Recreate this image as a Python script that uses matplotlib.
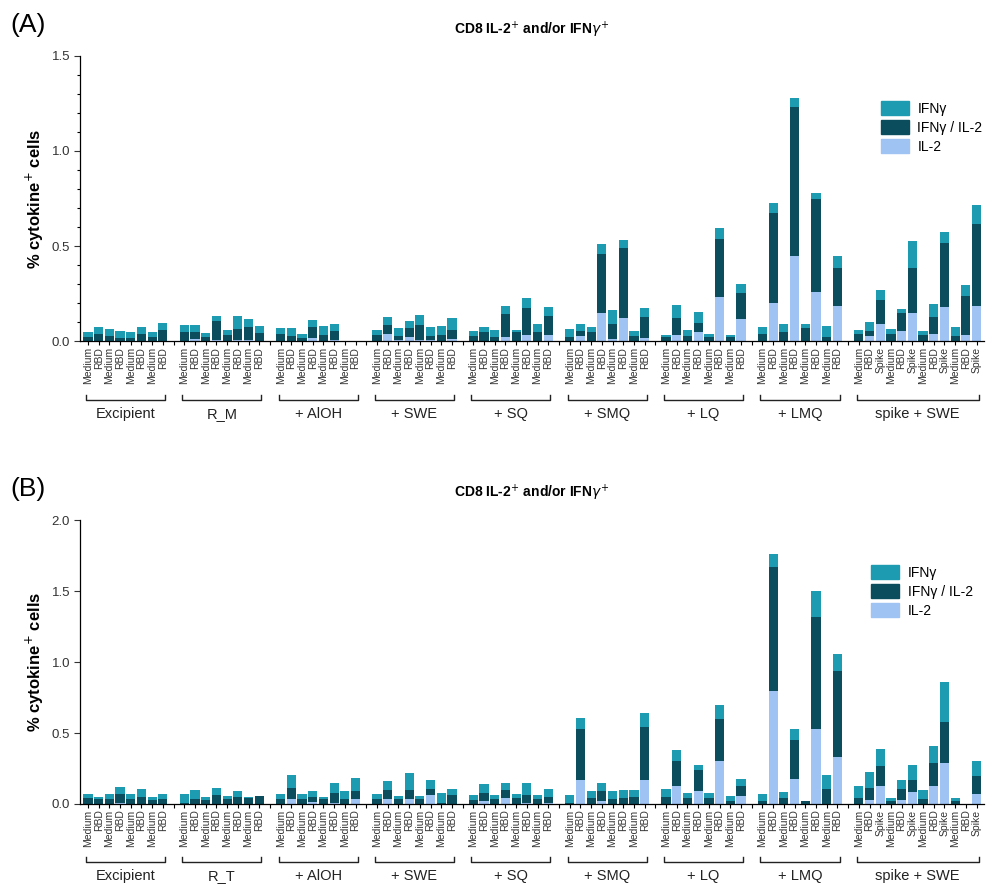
import numpy as np
import matplotlib
matplotlib.use("Agg")
import matplotlib.pyplot as plt
from matplotlib.patches import Patch
import matplotlib.transforms as mtransforms

plt.rcParams['font.family'] = ['Liberation Sans', 'DejaVu Sans']

# colours
C_IFNG = '#1d9bb0'
C_BOTH = '#0c4d5d'
C_IL2 = '#9fc3f2'

# ---- panel A data (segment heights, % of CD8 cells) ----
groups_a = ['Excipient', 'R_M', '+ AlOH', '+ SWE', '+ SQ', '+ SMQ', '+ LQ', '+ LMQ', 'spike + SWE']
labels_mr = ['Medium', 'RBD'] * 4
labels_spike = ['Medium', 'RBD', 'Spike'] * 4

il2_a = [
    [0.003, 0.003, 0.003, 0.003, 0.003, 0.003, 0.003, 0.003],
    [0.003, 0.01, 0.003, 0.005, 0.003, 0.005, 0.005, 0.003],
    [0.003, 0.003, 0.003, 0.018, 0.003, 0.008, 0, 0],
    [0.003, 0.04, 0.005, 0.02, 0.005, 0.005, 0.003, 0.01],
    [0.003, 0.003, 0.003, 0.023, 0.003, 0.032, 0.003, 0.032],
    [0.003, 0.026, 0.003, 0.149, 0.01, 0.12, 0.003, 0.015],
    [0.002, 0.032, 0.003, 0.046, 0.003, 0.23, 0.002, 0.119],
    [0.003, 0.2, 0.003, 0.449, 0.003, 0.26, 0.003, 0.186],
    [0.003, 0.026, 0.089, 0.003, 0.054, 0.149, 0.003, 0.04, 0.181, 0.003, 0.032, 0.186],
]
both_a = [
    [0.017, 0.037, 0.027, 0.012, 0.012, 0.037, 0.017, 0.055],
    [0.044, 0.04, 0.017, 0.1, 0.032, 0.058, 0.07, 0.039],
    [0.037, 0.023, 0.012, 0.057, 0.032, 0.046, 0, 0],
    [0.032, 0.044, 0.025, 0.052, 0.079, 0.025, 0.032, 0.051],
    [0.023, 0.044, 0.02, 0.119, 0.047, 0.14, 0.047, 0.1],
    [0.02, 0.028, 0.047, 0.307, 0.083, 0.37, 0.027, 0.111],
    [0.018, 0.088, 0.023, 0.052, 0.02, 0.305, 0.018, 0.132],
    [0.034, 0.475, 0.046, 0.781, 0.064, 0.487, 0.02, 0.2],
    [0.037, 0.028, 0.127, 0.037, 0.095, 0.237, 0.029, 0.088, 0.333, 0.023, 0.207, 0.43],
]
ifng_a = [
    [0.03, 0.035, 0.035, 0.04, 0.035, 0.035, 0.03, 0.037],
    [0.037, 0.034, 0.024, 0.028, 0.026, 0.07, 0.043, 0.037],
    [0.027, 0.044, 0.025, 0.035, 0.044, 0.036, 0, 0],
    [0.023, 0.041, 0.037, 0.035, 0.053, 0.045, 0.044, 0.059],
    [0.027, 0.028, 0.035, 0.042, 0.008, 0.053, 0.043, 0.048],
    [0.04, 0.039, 0.025, 0.054, 0.07, 0.04, 0.025, 0.046],
    [0.012, 0.07, 0.032, 0.053, 0.014, 0.058, 0.012, 0.049],
    [0.038, 0.053, 0.04, 0.047, 0.026, 0.033, 0.056, 0.061],
    [0.021, 0.048, 0.052, 0.023, 0.021, 0.14, 0.021, 0.07, 0.058, 0.049, 0.056, 0.1],
]

# ---- panel B data ----
groups_b = ['Excipient', 'R_T', '+ AlOH', '+ SWE', '+ SQ', '+ SMQ', '+ LQ', '+ LMQ', 'spike + SWE']

il2_b = [
    [0.003, 0.003, 0.003, 0.01, 0.003, 0.003, 0.003, 0.003],
    [0.0, 0.003, 0.003, 0.003, 0.003, 0.003, 0.003, 0.003],
    [0.003, 0.033, 0.003, 0.015, 0.003, 0.01, 0.003, 0.033],
    [0.003, 0.033, 0.003, 0.033, 0.003, 0.061, 0.003, 0.003],
    [0.003, 0.02, 0.003, 0.042, 0.003, 0.008, 0.003, 0.008],
    [0.003, 0.169, 0.003, 0.023, 0.003, 0.003, 0.003, 0.169],
    [0.003, 0.127, 0.003, 0.092, 0.003, 0.305, 0.003, 0.059],
    [0.003, 0.798, 0.003, 0.176, 0.003, 0.528, 0.003, 0.333],
    [0.003, 0.028, 0.129, 0.003, 0.028, 0.082, 0.003, 0.129, 0.286, 0.003, 0, 0.07],
]
both_b = [
    [0.037, 0.032, 0.032, 0.06, 0.032, 0.049, 0.027, 0.032],
    [0.005, 0.032, 0.027, 0.06, 0.032, 0.049, 0.037, 0.056],
    [0.032, 0.077, 0.032, 0.037, 0.032, 0.07, 0.032, 0.059],
    [0.03, 0.066, 0.032, 0.066, 0.03, 0.047, 0.007, 0.058],
    [0.025, 0.06, 0.032, 0.057, 0.039, 0.053, 0.03, 0.044],
    [0.007, 0.362, 0.042, 0.069, 0.032, 0.042, 0.049, 0.371],
    [0.049, 0.178, 0.042, 0.147, 0.042, 0.294, 0.018, 0.068],
    [0.02, 0.869, 0.042, 0.275, 0.018, 0.791, 0.1, 0.604],
    [0.042, 0.082, 0.139, 0.02, 0.075, 0.087, 0.03, 0.157, 0.289, 0.018, 0, 0.127],
]
ifng_b = [
    [0.03, 0.017, 0.035, 0.052, 0.035, 0.051, 0.022, 0.035],
    [0.065, 0.063, 0.017, 0.047, 0.024, 0.04, 0.012, 0.0],
    [0.033, 0.094, 0.033, 0.04, 0.017, 0.07, 0.059, 0.093],
    [0.035, 0.063, 0.024, 0.117, 0.026, 0.061, 0.07, 0.047],
    [0.033, 0.059, 0.026, 0.051, 0.028, 0.089, 0.028, 0.056],
    [0.051, 0.077, 0.047, 0.058, 0.057, 0.054, 0.047, 0.098],
    [0.051, 0.075, 0.035, 0.036, 0.035, 0.098, 0.038, 0.049],
    [0.047, 0.098, 0.042, 0.075, 0.0, 0.183, 0.101, 0.117],
    [0.084, 0.118, 0.117, 0.017, 0.066, 0.106, 0.066, 0.125, 0.286, 0.019, 0, 0.108],
]

title = r'CD8 IL-2$^{+}$ and/or IFN$\gamma^{+}$'


def draw_panel(ax, groups, il2, both, ifng, ymax, major, minor):
    xs, tick_labels, gap_pos, spans = [], [], [], []
    pos = 0
    for gi, name in enumerate(groups):
        n = len(il2[gi])
        labs = labels_spike if n == 12 else labels_mr
        start = pos
        for i in range(n):
            xs.append(pos)
            tick_labels.append(labs[i])
            pos += 1
        spans.append((start, pos - 1, name))
        gap_pos.append(pos)
        pos += 1
    xs = np.array(xs)
    v_il2 = np.concatenate(il2)
    v_both = np.concatenate(both)
    v_ifng = np.concatenate(ifng)

    w = 0.86
    ax.bar(xs, v_il2, w, color=C_IL2, linewidth=0)
    ax.bar(xs, v_both, w, bottom=v_il2, color=C_BOTH, linewidth=0)
    ax.bar(xs, v_ifng, w, bottom=v_il2 + v_both, color=C_IFNG, linewidth=0)

    ax.set_xlim(-0.7, xs[-1] + 0.7)
    ax.set_ylim(0, ymax)
    ax.set_yticks(np.arange(0, ymax + 0.01, major))
    ax.set_yticklabels([f'{v:.1f}' for v in np.arange(0, ymax + 0.01, major)])
    if minor:
        ax.set_yticks(np.arange(0, ymax + 0.01, minor), minor=True)
    ax.set_xticks(xs)
    ax.set_xticklabels(tick_labels, rotation=90, fontsize=7.5, color='#333333')
    ax.set_xticks(gap_pos[:-1], minor=True)
    ax.tick_params(axis='x', which='both', length=3, width=0.8, pad=1)
    ax.tick_params(axis='y', which='major', length=4, width=0.8, labelsize=9.5, colors='#333333')
    ax.tick_params(axis='y', which='minor', length=2, width=0.8)
    for s in ['top', 'right']:
        ax.spines[s].set_visible(False)
    ax.spines['left'].set_linewidth(0.9)
    ax.spines['bottom'].set_linewidth(0.9)
    ax.set_ylabel('% cytokine$^{+}$ cells', fontsize=12, fontweight='bold', labelpad=4)

    tr = mtransforms.blended_transform_factory(ax.transData, ax.transAxes)
    yb = -0.205
    for a, b, name in spans:
        ax.plot([a - 0.2, a - 0.2, b + 0.2, b + 0.2], [yb + 0.018, yb, yb, yb + 0.018],
                color='#222222', lw=1, transform=tr, clip_on=False)
        ax.text((a + b) / 2, yb - 0.025, name, transform=tr, ha='center', va='top',
                fontsize=10.5, color='#222222')


fig = plt.figure(figsize=(9.93, 8.84), dpi=100)

ax_a = fig.add_axes([0.081, 0.614, 0.91, 0.323])
draw_panel(ax_a, groups_a, il2_a, both_a, ifng_a, 1.5, 0.5, 0.1)
ax_b = fig.add_axes([0.081, 0.0905, 0.91, 0.321])
draw_panel(ax_b, groups_b, il2_b, both_b, ifng_b, 2.0, 0.5, None)

fig.text(0.535, 0.966, title, ha='center', va='center', fontsize=10, fontweight='bold')
fig.text(0.535, 0.442, title, ha='center', va='center', fontsize=10, fontweight='bold')
fig.text(0.01, 0.972, '(A)', fontsize=19, va='center')
fig.text(0.01, 0.447, '(B)', fontsize=19, va='center')

handles = [Patch(color=C_IFNG, label='IFNγ'),
           Patch(color=C_BOTH, label='IFNγ / IL-2'),
           Patch(color=C_IL2, label='IL-2')]
for ax, anchor in [(ax_a, (0.875, 0.9)), (ax_b, (0.865, 0.375))]:
    ax.legend(handles=handles, loc='upper left', bbox_to_anchor=anchor,
              bbox_transform=fig.transFigure, frameon=False, fontsize=10,
              handlelength=2.0, handleheight=1.2, handletextpad=0.6, labelspacing=0.3)

fig.savefig('out.png', dpi=100)
